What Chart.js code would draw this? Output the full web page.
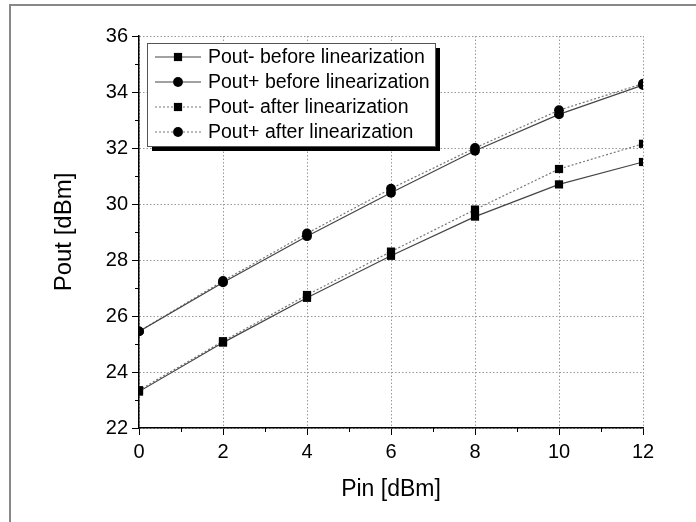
<!DOCTYPE html>
<html>
<head>
<meta charset="utf-8">
<script src="https://cdn.jsdelivr.net/npm/chart.js@4.4.1/dist/chart.umd.min.js"></script>
<style>
  html, body { margin: 0; padding: 0; background: #fff; }
  #wrap { width: 696px; height: 522px; }
</style>
</head>
<body>
<div id="wrap"><canvas id="chart" width="696" height="522"></canvas></div>
<script>
// ---- data ----
const pinValues = [0, 2, 4, 6, 8, 10, 12];
const poutMinusBefore = [23.3, 25.05, 26.65, 28.15, 29.55, 30.7, 31.5];
const poutPlusBefore  = [25.45, 27.2, 28.85, 30.4, 31.9, 33.2, 34.25];
const poutMinusAfter  = [23.35, 25.1, 26.75, 28.3, 29.8, 31.25, 32.15];
const poutPlusAfter   = [25.45, 27.25, 28.95, 30.55, 32.0, 33.35, 34.3];

const seriesLabels = [
    "Pout- before linearization",
    "Pout+ before linearization",
    "Pout- after linearization",
    "Pout+ after linearization"
];

const FONT = "'Liberation Sans', Arial, sans-serif";

function toPoints(ys) {
    return pinValues.map((x, i) => ({ x: x, y: ys[i] }));
}

function makeSet(label, ys, marker, dashed) {
    return {
        label: label,
        data: toPoints(ys),
        borderColor: dashed ? "#777" : "#444",
        borderWidth: 1.2,
        borderDash: dashed ? [2, 2] : [],
        pointStyle: marker,
        pointRadius: marker === "rect" ? 5.8 : 4.9,
        pointBackgroundColor: "#000",
        pointBorderColor: "#000",
        pointBorderWidth: 0,
        tension: 0
    };
}

// frame line, minor ticks and the boxed legend
const extras = {
    id: "extras",
    beforeDraw(chart) {
        const ctx = chart.ctx;
        ctx.save();
        ctx.fillStyle = "#fff";
        ctx.fillRect(0, 0, chart.width, chart.height);
        ctx.strokeStyle = "#888";
        ctx.lineWidth = 2;
        ctx.beginPath();
        ctx.moveTo(10, chart.height);
        ctx.lineTo(10, 5);
        ctx.lineTo(chart.width, 5);
        ctx.stroke();
        ctx.restore();
    },
    afterDraw(chart) {
        const ctx = chart.ctx;
        const xs = chart.scales.x, ys = chart.scales.y;
        const area = chart.chartArea;

        // minor ticks every 1 unit
        ctx.save();
        ctx.strokeStyle = "#000";
        ctx.lineWidth = 1;
        ctx.beginPath();
        for (let v = xs.min + 1; v < xs.max; v += 2) {
            const px = Math.round(xs.getPixelForValue(v)) + 0.5;
            ctx.moveTo(px, area.bottom);
            ctx.lineTo(px, area.bottom + 4);
        }
        for (let v = ys.min + 1; v < ys.max; v += 2) {
            const py = Math.round(ys.getPixelForValue(v)) + 0.5;
            ctx.moveTo(area.left, py);
            ctx.lineTo(area.left - 4, py);
        }
        ctx.stroke();
        ctx.restore();

        // legend
        const bx = 147, by = 43, bw = 288, bh = 103;
        ctx.save();
        ctx.fillStyle = "#000";
        ctx.fillRect(bx + 5, by + 5, bw, bh);
        ctx.fillStyle = "#fff";
        ctx.fillRect(bx, by, bw, bh);
        ctx.strokeStyle = "#555";
        ctx.lineWidth = 1;
        ctx.strokeRect(bx + 0.5, by + 0.5, bw, bh);

        ctx.font = "19.5px " + FONT;
        ctx.textBaseline = "middle";
        chart.data.datasets.forEach((ds, i) => {
            const rowY = by + 14 + i * 25;
            ctx.strokeStyle = ds.borderColor;
            ctx.lineWidth = ds.borderWidth;
            ctx.setLineDash(ds.borderDash);
            ctx.beginPath();
            ctx.moveTo(bx + 8, rowY);
            ctx.lineTo(bx + 54, rowY);
            ctx.stroke();
            ctx.setLineDash([]);
            ctx.fillStyle = "#000";
            Chart.helpers.drawPoint(ctx, {
                pointStyle: ds.pointStyle,
                radius: ds.pointRadius,
                borderWidth: 0
            }, bx + 31, rowY);
            ctx.fillText(ds.label, bx + 61, rowY + 1);
        });
        ctx.restore();
    }
};

const axisTicks = { color: "#000", font: { family: FONT, size: 20 } };

new Chart(document.getElementById("chart"), {
    type: "line",
    data: {
        datasets: [
            makeSet(seriesLabels[0], poutMinusBefore, "rect", false),
            makeSet(seriesLabels[1], poutPlusBefore, "circle", false),
            makeSet(seriesLabels[2], poutMinusAfter, "rect", true),
            makeSet(seriesLabels[3], poutPlusAfter, "circle", true)
        ]
    },
    options: {
        responsive: false,
        animation: false,
        layout: { padding: { top: 36, right: 53, left: 0, bottom: 0 } },
        plugins: { legend: { display: false }, tooltip: { enabled: false } },
        scales: {
            x: {
                type: "linear",
                min: 0, max: 12,
                ticks: Object.assign({ stepSize: 2, padding: 5 }, axisTicks),
                grid: { color: "#999", lineWidth: 1, tickColor: "#000", tickLength: 7, tickBorderDash: [] },
                border: { color: "#000", width: 1.5, dash: [1.5, 2] },
                title: { display: true, text: "Pin [dBm]", color: "#000",
                         font: { family: FONT, size: 23 }, padding: { top: 0, bottom: 19 } },
                afterFit(scale) { scale.height = 94; }
            },
            y: {
                type: "linear",
                min: 22, max: 36,
                ticks: Object.assign({ stepSize: 2, padding: 4 }, axisTicks),
                grid: { color: "#999", lineWidth: 1, tickColor: "#000", tickLength: 7, tickBorderDash: [] },
                border: { color: "#000", width: 1.5, dash: [1.5, 2] },
                title: { display: true, text: "Pout [dBm]", color: "#000",
                         font: { family: FONT, size: 24 }, padding: { top: 50, bottom: 0 } },
                afterFit(scale) { scale.width = 139; }
            }
        }
    },
    plugins: [extras]
});
</script>
</body>
</html>
